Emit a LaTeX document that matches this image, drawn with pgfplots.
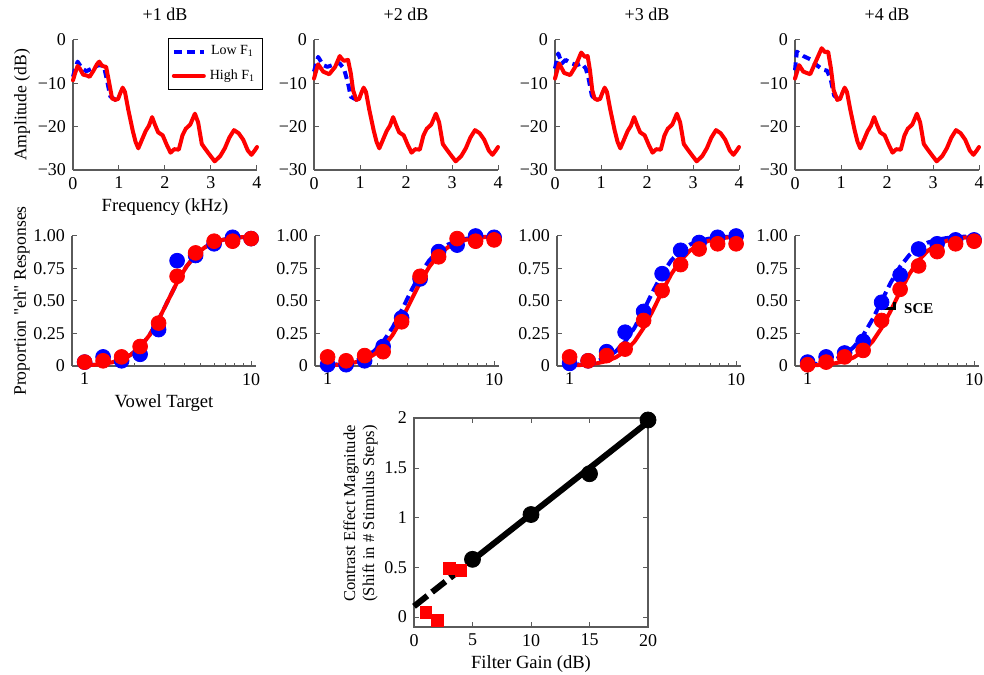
\documentclass[border=0pt]{standalone}
\usepackage{fontspec}
\setmainfont{Liberation Serif}[Ligatures=TeXOff]
\usepackage{pgfplots}
\usepackage{pgfplotstable}
\pgfplotsset{compat=1.18}

% spectra, high F1 tail (same in all panels)
\pgfplotstableread{
f a
0.92 -13.8
0.98 -13.6
1.03 -12.2
1.08 -11.0
1.13 -12.0
1.20 -16.0
1.30 -21.0
1.36 -23.5
1.42 -25.0
1.50 -23.0
1.58 -21.0
1.65 -19.8
1.72 -17.8
1.78 -19.5
1.85 -21.3
1.95 -22.0
2.03 -24.0
2.12 -26.0
2.20 -25.2
2.30 -25.3
2.38 -22.0
2.45 -20.5
2.55 -19.5
2.65 -17.0
2.72 -19.0
2.80 -24.0
2.88 -25.2
2.95 -26.2
3.08 -28.0
3.20 -26.8
3.30 -25.0
3.40 -22.5
3.50 -20.8
3.60 -21.5
3.70 -23.0
3.80 -25.5
3.88 -26.5
3.95 -25.5
4.00 -24.7
}\hightail

\pgfplotstableread{
f a
0 -9.3
0.05 -7.5
0.10 -6.0
0.15 -6.6
0.22 -8.0
0.30 -8.2
0.36 -8.5
0.45 -7.0
0.52 -5.6
0.57 -5.0
0.62 -5.8
0.67 -6.1
0.72 -6.2
0.78 -9.5
0.85 -13.5
0.92 -13.8
}\highA
\pgfplotstableread{
f a
0 -8.5
0.05 -6.5
0.10 -5.0
0.20 -6.6
0.29 -7.2
0.41 -6.6
0.56 -5.8
0.67 -6.0
0.74 -9.3
0.81 -13.0
0.92 -13.8
0.98 -13.8
}\lowA

\pgfplotstableread{
f a
0 -8.9
0.05 -7.0
0.09 -5.6
0.20 -7.3
0.33 -7.9
0.46 -6.2
0.56 -3.7
0.60 -4.3
0.65 -4.8
0.74 -4.6
0.80 -7.7
0.85 -11.6
0.92 -13.8
}\highB
\pgfplotstableread{
f a
0 -7.3
0.09 -3.9
0.20 -5.8
0.29 -6.2
0.40 -5.8
0.55 -5.3
0.65 -6.6
0.74 -10.0
0.80 -13.1
0.91 -13.7
0.98 -13.8
}\lowB

\pgfplotstableread{
f a
0 -8.9
0.09 -5.4
0.20 -7.6
0.33 -8.1
0.44 -6.2
0.57 -2.9
0.65 -3.9
0.71 -3.7
0.76 -7.0
0.81 -11.6
0.86 -13.5
0.92 -13.8
}\highC
\pgfplotstableread{
f a
0 -6.6
0.07 -3.1
0.15 -5.4
0.23 -4.6
0.36 -5.4
0.47 -5.8
0.58 -5.4
0.67 -6.6
0.73 -8.9
0.80 -12.8
0.87 -13.7
0.95 -13.7
}\lowC

\pgfplotstableread{
f a
0 -8.9
0.09 -5.8
0.18 -7.3
0.33 -7.9
0.45 -5.0
0.58 -1.9
0.65 -2.8
0.72 -2.7
0.78 -6.5
0.84 -11.6
0.92 -13.8
}\highD
\pgfplotstableread{
f a
0 -7.0
0.04 -2.7
0.18 -3.7
0.34 -4.5
0.47 -5.8
0.60 -6.8
0.70 -7.1
0.78 -9.3
0.85 -12.8
0.95 -13.7
}\lowD

% identification responses (b = low F1, r = high F1), panels 1-4
\pgfplotstableread{
x b1 r1 b2 r2 b3 r3 b4 r4
1.0000 0.03 0.03 0.01 0.07 0.02 0.07 0.03 0.01
1.2915 0.07 0.04 0.01 0.04 0.04 0.04 0.07 0.03
1.6681 0.04 0.07 0.04 0.08 0.11 0.08 0.10 0.07
2.1544 0.09 0.15 0.15 0.11 0.26 0.13 0.19 0.12
2.7826 0.28 0.33 0.37 0.34 0.42 0.35 0.49 0.35
3.5938 0.81 0.69 0.67 0.69 0.71 0.58 0.70 0.59
4.6416 0.85 0.87 0.88 0.84 0.89 0.78 0.90 0.77
5.9948 0.94 0.96 0.93 0.98 0.95 0.90 0.94 0.88
7.7426 0.99 0.96 1.00 0.96 0.99 0.94 0.97 0.94
10.000 0.98 0.98 0.99 0.97 1.00 0.94 0.97 0.96
}\psydata

% fitted curves
\pgfplotstableread{
x c400 c425 c450 c475
1.0000 0.0090 0.0067 0.0050 0.0037
1.1365 0.0160 0.0120 0.0090 0.0067
1.2915 0.0285 0.0214 0.0160 0.0120
1.4678 0.0503 0.0379 0.0285 0.0214
1.6681 0.0869 0.0662 0.0503 0.0379
1.8957 0.1462 0.1131 0.0869 0.0662
2.1544 0.2359 0.1868 0.1462 0.1131
2.4484 0.3571 0.2927 0.2359 0.1868
2.7826 0.5000 0.4270 0.3571 0.2927
3.1623 0.6429 0.5730 0.5000 0.4270
3.5938 0.7641 0.7073 0.6429 0.5730
4.0842 0.8538 0.8132 0.7641 0.7073
4.6416 0.9131 0.8869 0.8538 0.8132
5.2750 0.9497 0.9338 0.9131 0.8869
5.9948 0.9715 0.9621 0.9497 0.9338
6.8129 0.9840 0.9786 0.9715 0.9621
7.7426 0.9910 0.9880 0.9840 0.9786
8.7992 0.9950 0.9933 0.9910 0.9880
10.000 0.9972 0.9963 0.9950 0.9933
}\fits

\definecolor{axgray}{RGB}{90,90,90}

\pgfplotsset{
  panelax/.style={scale only axis, width=92pt, height=65pt, clip=false,
    axis x line*=bottom, axis y line*=left, tick align=inside,
    axis line style={axgray, line width=0.6pt}, tick style={axgray, line width=0.5pt},
    major tick length=2.5pt, minor tick length=1.5pt,
    ticklabel style={font=\fontsize{9}{10}\selectfont},
    xlabel style={font=\fontsize{9.3}{11}\selectfont, yshift=2pt},
    ylabel style={font=\fontsize{8.8}{10}\selectfont},
    title style={font=\fontsize{9}{10}\selectfont}},
  specax/.style={panelax, xmin=0, xmax=4, ymin=-30, ymax=0,
    xtick={0,1,2,3,4}, xticklabels={0,1,2,3,4},
    ytick={-30,-20,-10,0}, yticklabels={−30,−20,−10,0}},
  psyax/.style={panelax, xmin=0.84, xmax=10.7, ymin=0, ymax=1,
    xtick={1,10}, xticklabels={1,10}, minor xtick={2,3,4,5,6,7,8,9},
    ytick={0,0.25,0.5,0.75,1}, yticklabels={0,0.25,0.50,0.75,1.00}},
  lowline/.style={blue, line width=2pt, dash pattern=on 4pt off 2.5pt, line join=round},
  highline/.style={red, line width=2pt, line join=round, line cap=round},
  lowdot/.style={only marks, mark=*, mark size=3.7pt, blue, mark options={fill=blue}},
  highdot/.style={only marks, mark=*, mark size=3.7pt, red, mark options={fill=red}},
  lowfit/.style={blue, line width=2pt, dash pattern=on 5pt off 2.5pt},
  highfit/.style={red, line width=2pt},
}

\begin{document}
\begin{tikzpicture}
\path[use as bounding box] (0,0) rectangle (492pt,337pt);

% ---- spectra ----
\begin{axis}[specax, at={(36.5pt,252pt)}, anchor=south west, title={+1 dB},
  xlabel={Frequency (kHz)}, ylabel={Amplitude (dB)},
  ylabel style={yshift=-3pt},
  legend style={at={(rel axis cs:1.03,1.015)}, anchor=north east,
    font=\fontsize{7}{8}\selectfont, draw=black, inner sep=1.5pt, row sep=2pt},
  legend image code/.code={\draw[#1] (0pt,0pt) -- (15pt,0pt);}]
\addplot[lowline] table[x=f,y=a] {\lowA};
\addlegendentry{Low F\textsubscript{1}}
\addplot[highline] table[x=f,y=a] {\highA};
\addlegendentry{High F\textsubscript{1}}
\addplot[highline, forget plot] table[x=f,y=a] {\hightail};
\end{axis}

\begin{axis}[specax, at={(157pt,252pt)}, anchor=south west, title={+2 dB}]
\addplot[lowline] table[x=f,y=a] {\lowB};
\addplot[highline] table[x=f,y=a] {\highB};
\addplot[highline] table[x=f,y=a] {\hightail};
\end{axis}

\begin{axis}[specax, at={(277.5pt,252pt)}, anchor=south west, title={+3 dB}]
\addplot[lowline] table[x=f,y=a] {\lowC};
\addplot[highline] table[x=f,y=a] {\highC};
\addplot[highline] table[x=f,y=a] {\hightail};
\end{axis}

\begin{axis}[specax, at={(397.5pt,252pt)}, anchor=south west, title={+4 dB}]
\addplot[lowline] table[x=f,y=a] {\lowD};
\addplot[highline] table[x=f,y=a] {\highD};
\addplot[highline] table[x=f,y=a] {\hightail};
\end{axis}

% ---- identification functions ----
\begin{axis}[xmode=log, psyax, at={(36pt,154pt)}, anchor=south west,
  xlabel={Vowel Target}, ylabel={Proportion "eh" Responses},
  ylabel style={yshift=-5pt}]
\addplot[lowdot] table[x=x,y=b1] {\psydata};
\addplot[highdot] table[x=x,y=r1] {\psydata};
\addplot[lowfit] table[x=x,y=c450] {\fits};
\addplot[highfit] table[x=x,y=c450] {\fits};
\end{axis}

\begin{axis}[xmode=log, psyax, at={(157.5pt,154pt)}, anchor=south west]
\addplot[lowdot] table[x=x,y=b2] {\psydata};
\addplot[highdot] table[x=x,y=r2] {\psydata};
\addplot[lowfit] table[x=x,y=c425] {\fits};
\addplot[highfit] table[x=x,y=c450] {\fits};
\end{axis}

\begin{axis}[xmode=log, psyax, at={(278.5pt,154pt)}, anchor=south west]
\addplot[lowdot] table[x=x,y=b3] {\psydata};
\addplot[highdot] table[x=x,y=r3] {\psydata};
\addplot[lowfit] table[x=x,y=c425] {\fits};
\addplot[highfit] table[x=x,y=c475] {\fits};
\end{axis}

\begin{axis}[xmode=log, psyax, at={(397.5pt,154pt)}, anchor=south west]
\addplot[lowdot] table[x=x,y=b4] {\psydata};
\addplot[highdot] table[x=x,y=r4] {\psydata};
\addplot[lowfit] table[x=x,y=c400] {\fits};
\addplot[highfit] table[x=x,y=c475] {\fits};
\addplot[black, line width=1.5pt] coordinates {(2.83,0.49) (2.83,0.44) (3.32,0.44) (3.32,0.49)};
\node[anchor=west, font=\fontsize{7.5}{8}\selectfont\bfseries] at (axis cs:3.45,0.44) {SCE};
\end{axis}

% ---- contrast effect vs filter gain ----
\begin{axis}[scale only axis, width=117pt, height=104.5pt, at={(207pt,23.5pt)}, anchor=south west,
  xmin=0, xmax=20, ymin=-0.1, ymax=2, clip=false,
  xtick={0,5,10,15,20}, xticklabels={0,5,10,15,20},
  ytick={0,0.5,1,1.5,2}, yticklabels={0,0.5,1,1.5,2},
  tick align=inside, axis line style={axgray, line width=0.6pt}, tick style={axgray},
  major tick length=2.5pt,
  ticklabel style={font=\fontsize{9}{10}\selectfont},
  xlabel={Filter Gain (dB)}, xlabel style={font=\fontsize{9.3}{11}\selectfont, yshift=2pt},
  ylabel={Contrast Effect Magnitude\\(Shift in \# Stimulus Steps)},
  ylabel style={align=center, font=\fontsize{8.3}{9.5}\selectfont, xshift=4.5pt, yshift=-3.5pt}]
\addplot[black, line width=3pt, dash pattern=on 8.5pt off 3pt] coordinates {(0,0.108) (5,0.571)};
\addplot[black, line width=3pt] coordinates {(5,0.571) (20,1.96)};
\addplot[only marks, mark=*, mark size=4pt, black] coordinates {(5,0.58) (10,1.03) (15,1.44) (20,1.98)};
\addplot[only marks, mark=square*, mark size=2.9pt, red] coordinates {(1,0.044) (2,-0.034) (3,0.49) (4,0.466)};
\end{axis}
\end{tikzpicture}
\end{document}
